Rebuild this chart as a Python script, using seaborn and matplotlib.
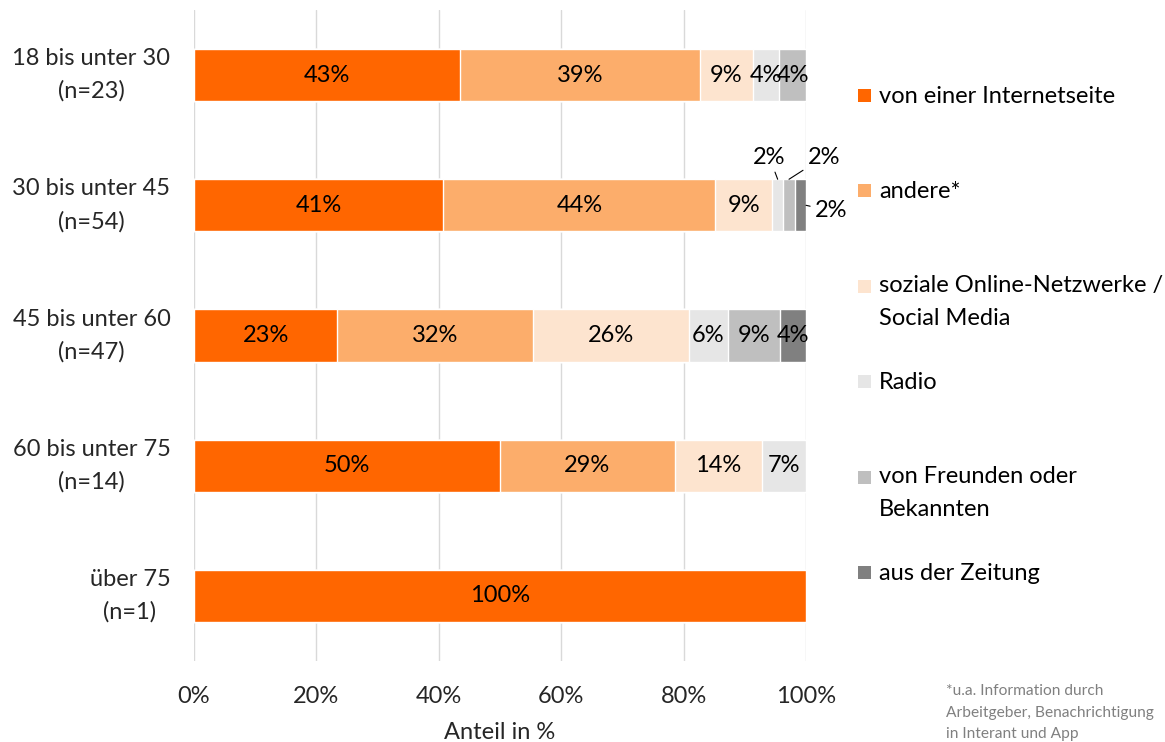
import matplotlib.pyplot as plt
import matplotlib.patches as mpatches
import numpy as np
import pandas as pd
import seaborn as sns

# Altersgruppen mit Stichprobengröße
groups = ['18 bis unter 30', '30 bis unter 45', '45 bis unter 60', '60 bis unter 75', 'über 75']
n_sizes = [23, 54, 47, 14, 1]

sources = ['von einer Internetseite', 'andere*', 'soziale Online-Netzwerke /\nSocial Media',
           'Radio', 'von Freunden oder\nBekannten', 'aus der Zeitung']
colors = ['#FF6600', '#FCAD6B', '#FDE4CF', '#E6E6E6', '#BFBFBF', '#808080']

# Anzahl Nennungen je Altersgruppe (Reihenfolge wie sources)
counts_18_30 = [10, 9, 2, 1, 1, 0]
counts_30_45 = [22, 24, 5, 1, 1, 1]
counts_45_60 = [11, 15, 12, 3, 4, 2]
counts_60_75 = [7, 4, 2, 1, 0, 0]
counts_75 = [1, 0, 0, 0, 0, 0]

xticks = [0, 20, 40, 60, 80, 100]
footnote = '*u.a. Information durch\nArbeitgeber, Benachrichtigung\nin Interant und App'

W, H = 1165, 742
FONT = 'Lato'
FS = 17


def main():
    counts = np.array([counts_18_30, counts_30_45, counts_45_60, counts_60_75, counts_75], dtype=float)
    share = counts / np.array(n_sizes)[:, None] * 100
    cum = np.cumsum(share, axis=1)

    ylabels = [f'{g}\n(n={n})' for g, n in zip(groups, n_sizes)]

    sns.set_theme(style='white')
    plt.rcParams['font.family'] = [FONT, 'DejaVu Sans']

    fig = plt.figure(figsize=(W / 100, H / 100), dpi=100)
    ax = fig.add_axes([194 / W, 1 - 661 / H, (806 - 194) / W, (661 - 10) / H])

    # gestapelt: von hinten (Summe) nach vorne zeichnen
    for k in range(len(sources) - 1, -1, -1):
        df = pd.DataFrame({'gruppe': ylabels, 'wert': cum[:, k]})
        sns.barplot(data=df, x='wert', y='gruppe', orient='h', color=colors[k],
                    saturation=1, width=0.4, ax=ax, zorder=2)

    # Beschriftungen
    outside = {3: ((-6, 16), 'xy_top'), 4: ((25, 16), 'xy_top'), 5: ((18, -4), 'xy_right')}
    for i in range(len(groups)):
        for k in range(len(sources)):
            v = share[i, k]
            if v <= 0:
                continue
            mid = cum[i, k] - v / 2
            txt = f'{round(v)}%'
            if v >= 3:
                ax.text(mid, i, txt, ha='center', va='center', fontsize=FS, color='black', zorder=3)
            else:
                off, kind = outside[k]
                xy = (mid, i - 0.2) if kind == 'xy_top' else (cum[i, k], i)
                ax.annotate(txt, xy=xy, xytext=off, textcoords='offset points',
                            ha='center', va='center', fontsize=FS, color='black',
                            arrowprops=dict(arrowstyle='-', color='black', lw=0.8,
                                            shrinkA=1, shrinkB=0))

    ax.set_xlim(0, 100)
    ax.set_xticks(xticks)
    ax.set_xticklabels([f'{t}%' for t in xticks], fontsize=FS)
    ax.set_yticks(range(len(groups)))
    ax.set_yticklabels(ylabels, fontsize=FS, multialignment='center', linespacing=1.65, va='center')
    ax.tick_params(axis='x', length=0, pad=18)
    ax.tick_params(axis='y', length=0, pad=17)
    ax.set_xlabel('Anteil in %', fontsize=FS, labelpad=11)
    ax.set_ylabel('')
    ax.xaxis.grid(True, color='#D9D9D9', lw=1, zorder=0)
    ax.yaxis.grid(False)
    ax.set_axisbelow(True)
    for s in ax.spines.values():
        s.set_visible(False)

    # Legende wie im Original: gleichmäßige Abstände, Symbol an erster Zeile
    for k, lab in enumerate(sources):
        yc = 95 + k * 95.4
        nl = lab.count('\n')
        fig.add_artist(mpatches.Rectangle((858 / W, 1 - (yc + 7) / H), 13 / W, 13 / H,
                                          transform=fig.transFigure, color=colors[k], lw=0))
        fig.text(879 / W, 1 - (yc + 8 + nl * 31) / H, lab, ha='left', va='baseline', fontsize=FS,
                 color='black', linespacing=1.7)

    fig.text(946 / W, 1 - 684 / H, footnote, ha='left', va='top', fontsize=11.2,
             color='#808080', linespacing=1.7)

    fig.savefig('out.png', dpi=100)


if __name__ == '__main__':
    main()
